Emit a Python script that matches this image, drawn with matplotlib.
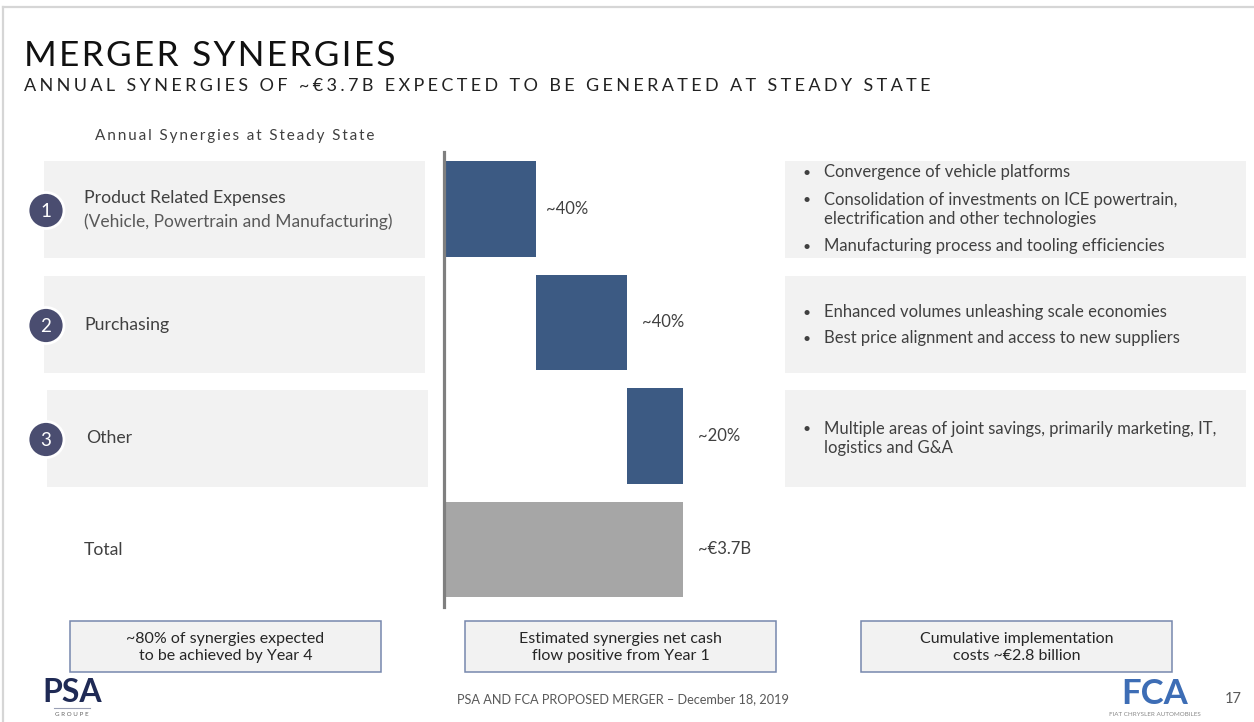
import matplotlib
matplotlib.use("Agg")
import matplotlib.pyplot as plt
from matplotlib.patches import Rectangle, Circle

W, H = 1254, 722

# --- data -------------------------------------------------------------
categories = ["Product Related Expenses", "Purchasing", "Other", "Total"]
sub_labels = ["(Vehicle, Powertrain and Manufacturing)", "", "", ""]
synergy_bn = [1.42, 1.42, 0.86]          # bar lengths
total_bn = 3.7
value_labels = ["~40%", "~40%", "~20%", "~€3.7B"]
bullets = [
    ["Convergence of vehicle platforms",
     "Consolidation of investments on ICE powertrain,\nelectrification and other technologies",
     "Manufacturing process and tooling efficiencies"],
    ["Enhanced volumes unleashing scale economies",
     "Best price alignment and access to new suppliers"],
    ["Multiple areas of joint savings, primarily marketing, IT,\nlogistics and G&A"],
]
notes = ["~80% of synergies expected\nto be achieved by Year 4",
         "Estimated synergies net cash\nflow positive from Year 1",
         "Cumulative implementation\ncosts ~€2.8 billion"]

title = "MERGER SYNERGIES"
subtitle = "ANNUAL SYNERGIES OF ~€3.7B EXPECTED TO BE GENERATED AT STEADY STATE"
chart_title = "Annual Synergies at Steady State"
footer = "PSA AND FCA PROPOSED MERGER \u2013 December 18, 2019"
page = "17"

BLUE = "#3c5a83"
GREY_BAR = "#a6a6a6"
BOX = "#f2f2f2"
NAVY = "#4a4d70"
TXT = "#404040"
FONT = ["Lato", "DejaVu Sans"]

plt.rcParams["font.family"] = FONT


def spaced(s, sep="\u2009"):
    return sep.join(s)


fig = plt.figure(figsize=(W / 100, H / 100), dpi=100, facecolor="white")
bg = fig.add_axes([0, 0, 1, 1])
bg.set_xlim(0, W)
bg.set_ylim(H, 0)
bg.axis("off")

# slide frame
bg.plot([3, W], [7, 7], color="#d6d6d6", lw=1.6)
bg.plot([3, 3], [7, H], color="#d6d6d6", lw=1.6)

# titles
bg.text(24, 66, spaced(title, "\u200a"), fontsize=25.3, color="#111111",
        ha="left", va="baseline")
bg.text(24, 91, spaced(subtitle, "\u2009\u200a"), fontsize=13, color="#222222",
        ha="left", va="baseline")
bg.text(95, 140, spaced(chart_title), fontsize=11, color=TXT,
        ha="left", va="baseline")

# row boxes, circles, labels, bullets
row_top = [161, 276, 390]
row_h = 97
for i in range(3):
    lx = 44 if i < 2 else 47
    bg.add_patch(Rectangle((lx, row_top[i]), 381, row_h, color=BOX, lw=0, zorder=1))
    bg.add_patch(Rectangle((785, row_top[i]), 461, row_h, color=BOX, lw=0, zorder=1))
    cy = row_top[i] + row_h / 2 + 1
    bg.add_patch(Circle((46, cy), 18, facecolor=NAVY, edgecolor="white", lw=2, zorder=3))
    bg.text(46, cy + 1, str(i + 1), color="white", fontsize=13.5, ha="center",
            va="center", zorder=4)

label_y = [198, 325, 438, 550]
for i, cat in enumerate(categories):
    x = 84 if i != 2 else 86
    bg.text(x, label_y[i], cat, fontsize=12.7, color=TXT, ha="left", va="center", zorder=4)
    if sub_labels[i]:
        bg.text(x, label_y[i] + 24, sub_labels[i], fontsize=12.5, color="#595959",
                ha="left", va="center", zorder=4)

# baselines of the first line of each bullet; a multi-line text sits on its last line
LINE = 20
bullet_base = [[177, 204, 251], [317, 343], [433]]
for i, items in enumerate(bullets):
    for txt, y in zip(items, bullet_base[i]):
        n = txt.count("\n")
        bg.text(802, y, "\u2022", fontsize=10, color=TXT, ha="left", va="baseline", zorder=4)
        bg.text(824, y + n * LINE, txt, fontsize=12, color=TXT, ha="left", va="baseline",
                linespacing=1.2, zorder=4)

# --- waterfall chart ---------------------------------------------------
ax = fig.add_axes([444 / W, 1 - 607 / H, 340 / W, 455 / H])
ax.patch.set_visible(False)
lefts = [sum(synergy_bn[:i]) for i in range(len(synergy_bn))]
ax.barh(range(3), synergy_bn, left=lefts, height=0.84, color=BLUE, zorder=2)
ax.barh([3], [total_bn], left=[0], height=0.84, color=GREY_BAR, zorder=2)
ends = [l + v for l, v in zip(lefts, synergy_bn)] + [total_bn]
for i, (e, lab) in enumerate(zip(ends, value_labels)):
    ax.annotate(lab, (e, i), xytext=(7.5 if i == 0 else 11, 0), textcoords="offset points",
                ha="left", va="center", fontsize=12, color=TXT)
ax.set_xlim(0, 3.7 * 340 / 238.7)
ax.set_ylim(3.507, -0.502)
for s in ["top", "right", "bottom"]:
    ax.spines[s].set_visible(False)
ax.spines["left"].set_color("#7f7f7f")
ax.spines["left"].set_linewidth(2.3)
ax.set_xticks([])
ax.set_yticks([])

# --- bottom note boxes -------------------------------------------------
note_x = [70, 465, 861]
for x, n in zip(note_x, notes):
    bg.add_patch(Rectangle((x, 621), 311, 51, facecolor=BOX, edgecolor="#7787ad",
                           lw=1.1, zorder=1))
    bg.text(x + 155.5, 647.5, n, fontsize=11.5, color="#262626", ha="center",
            va="center", linespacing=1.25, zorder=2)

# footer
bg.text(623, 699, footer, fontsize=9.2, color="#595959", ha="center", va="center")
bg.text(1233, 699, page, fontsize=10.5, color="#595959", ha="center", va="center")

# logos (as text)
bg.text(72, 692, "PSA", fontsize=23, fontweight="bold", color="#1f2a55",
        ha="center", va="center")
bg.plot([54, 90], [708, 708], color="#9aa0b5", lw=0.8)
bg.text(72, 715, spaced("GROUPE", " "), fontsize=4.5, color="#666666",
        ha="center", va="center")
bg.text(1155, 694, "FCA", fontsize=25, fontweight="bold", color="#3d6db5",
        ha="center", va="center")
bg.text(1155, 714, "FIAT CHRYSLER AUTOMOBILES", fontsize=4.5, color="#888888",
        ha="center", va="center")

fig.savefig("out.png", dpi=100, facecolor="white")
